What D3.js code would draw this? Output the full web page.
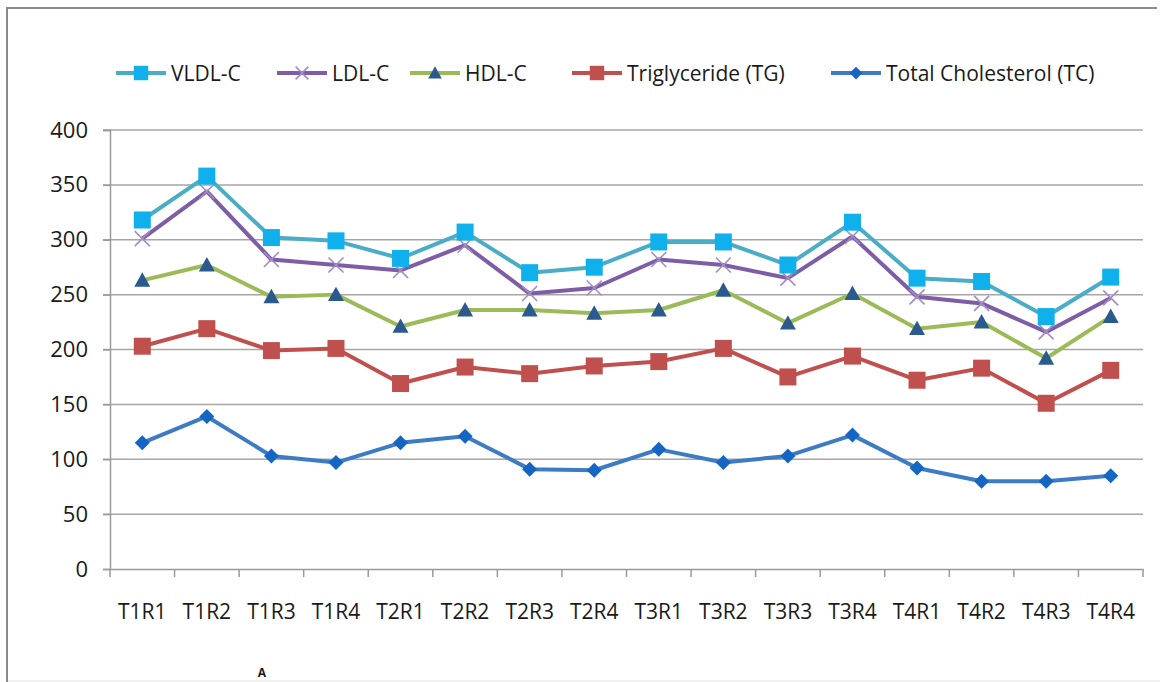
<!DOCTYPE html>
<html>
<head>
<meta charset="utf-8">
<script src="https://cdn.jsdelivr.net/npm/d3@7"></script>
<style>
  html, body { margin: 0; padding: 0; background: #fff; }
  svg { display: block; }
  text { font-family: "Open Sans", "Noto Sans", sans-serif; fill: #1a1a1a; }
</style>
</head>
<body>
<svg id="chart" width="1160" height="682"></svg>
<script>
// Sample labels (treatment / replicate)
const categories = ["T1R1","T1R2","T1R3","T1R4","T2R1","T2R2","T2R3","T2R4",
                    "T3R1","T3R2","T3R3","T3R4","T4R1","T4R2","T4R3","T4R4"];

// Lipid profile values per sample
const vldl = [318, 358, 302, 299, 283, 307, 270, 275, 298, 298, 277, 316, 265, 262, 230, 266];
const ldl  = [301, 344, 282, 277, 272, 295, 251, 256, 282, 277, 265, 303, 248, 242, 216, 247];
const hdl  = [263, 277, 248, 250, 221, 236, 236, 233, 236, 254, 224, 251, 219, 225, 192, 230];
const tg   = [203, 219, 199, 201, 169, 184, 178, 185, 189, 201, 175, 194, 172, 183, 151, 181];
const tc   = [115, 139, 103, 97, 115, 121, 91, 90, 109, 97, 103, 122, 92, 80, 80, 85];

const yTicks = [0, 50, 100, 150, 200, 250, 300, 350, 400];

const seriesNames = ["VLDL-C", "LDL-C", "HDL-C", "Triglyceride (TG)", "Total Cholesterol (TC)"];

const series = [
  { name: seriesNames[0], values: vldl, line: "#4aacc6", fill: "#0fb0ec", shape: "square", size: 17 },
  { name: seriesNames[1], values: ldl,  line: "#7d5ea6", fill: "#a18ec4", shape: "cross",  size: 15 },
  { name: seriesNames[2], values: hdl,  line: "#9bbb59", fill: "#2b5a8e", shape: "triangle", size: 16 },
  { name: seriesNames[3], values: tg,   line: "#c0504d", fill: "#c0504d", shape: "square", size: 17 },
  { name: seriesNames[4], values: tc,   line: "#3d7cc4", fill: "#1466c2", shape: "diamond", size: 15 }
];

const svg = d3.select("#chart");

// Outer frame
svg.append("line").attr("x1", 7).attr("x2", 7).attr("y1", 8).attr("y2", 682)
  .attr("stroke", "#8a8a8a").attr("stroke-width", 2);
svg.append("line").attr("x1", 6).attr("x2", 1157).attr("y1", 8).attr("y2", 8)
  .attr("stroke", "#8a8a8a").attr("stroke-width", 2);
svg.append("line").attr("x1", 8).attr("x2", 1160).attr("y1", 681).attr("y2", 681)
  .attr("stroke", "#e4e4e4").attr("stroke-width", 1);

const plotLeft = 110, plotRight = 1143, plotTop = 130, plotBottom = 569;

const x = d3.scaleBand().domain(categories).range([plotLeft, plotRight]).padding(0);
const cx = c => x(c) + x.bandwidth() / 2;
const y = d3.scaleLinear().domain([0, 400]).range([plotBottom, plotTop]);

// Horizontal gridlines (extend left as tick marks)
svg.append("g").selectAll("line").data(yTicks.filter(t => t > 0)).join("line")
  .attr("x1", plotLeft - 7).attr("x2", plotRight)
  .attr("y1", d => y(d)).attr("y2", d => y(d))
  .attr("stroke", "#a6a6a6").attr("stroke-width", 1.5);

// Y axis
const yAxis = svg.append("g").attr("transform", `translate(${plotLeft},0)`)
  .call(d3.axisLeft(y).tickValues(yTicks).tickSize(7).tickPadding(15));
yAxis.select(".domain").attr("stroke", "#9a9a9a").attr("stroke-width", 1.5);
yAxis.selectAll(".tick line").attr("stroke", "#9a9a9a").attr("stroke-width", 1.5);
yAxis.selectAll(".tick text").attr("font-size", 22).attr("fill", "#1a1a1a")
  .style("font-family", "'Open Sans', sans-serif");

// X axis: labels centred on categories, ticks at category boundaries
const xAxis = svg.append("g").attr("transform", `translate(0,${plotBottom})`)
  .call(d3.axisBottom(x).tickSize(0).tickPadding(35));
xAxis.select(".domain").attr("stroke", "#9a9a9a").attr("stroke-width", 1.5);
xAxis.selectAll(".tick text").attr("font-size", 21).attr("fill", "#1a1a1a")
  .style("font-family", "'Open Sans', sans-serif");
const bounds = categories.map(c => x(c)).concat([x.range()[1]]);
xAxis.append("g").selectAll("line").data(bounds).join("line")
  .attr("x1", d => d).attr("x2", d => d).attr("y1", 0).attr("y2", 8)
  .attr("stroke", "#9a9a9a").attr("stroke-width", 1.5);

// Marker drawing helper
function marker(g, shape, size, fill) {
  const h = size / 2;
  if (shape === "square") {
    g.append("rect").attr("x", -h).attr("y", -h).attr("width", size).attr("height", size)
      .attr("fill", fill);
  } else if (shape === "triangle") {
    g.append("path").attr("d", `M0,${-h}L${h},${h * 0.8}L${-h},${h * 0.8}Z`).attr("fill", fill);
  } else if (shape === "diamond") {
    g.append("path").attr("d", `M0,${-h}L${h},0L0,${h}L${-h},0Z`).attr("fill", fill);
  } else if (shape === "cross") {
    g.append("path").attr("d", `M${-h},${-h}L${h},${h}M${-h},${h}L${h},${-h}`)
      .attr("stroke", fill).attr("stroke-width", 1.6).attr("fill", "none");
  }
}

const line = d3.line().x(d => cx(d.c)).y(d => y(d.v));

// Draw series from bottom to top so VLDL-C sits on top
[...series].reverse().forEach(s => {
  const pts = categories.map((c, i) => ({ c, v: s.values[i] }));
  const g = svg.append("g");
  g.append("path").datum(pts).attr("d", line)
    .attr("fill", "none").attr("stroke", s.line).attr("stroke-width", 4)
    .attr("stroke-linejoin", "round");
  g.selectAll("g.m").data(pts).join("g").attr("class", "m")
    .attr("transform", d => `translate(${cx(d.c)},${y(d.v)})`)
    .each(function () { marker(d3.select(this), s.shape, s.size, s.fill); });
});

// Legend
const legendX = [116, 277, 410, 572, 831];
const legend = svg.append("g");
series.forEach((s, i) => {
  const g = legend.append("g").attr("transform", `translate(${legendX[i]},73)`);
  g.append("line").attr("x1", 0).attr("x2", 50).attr("y1", 0).attr("y2", 0)
    .attr("stroke", s.line).attr("stroke-width", 4);
  const m = g.append("g").attr("transform", "translate(25,0)");
  marker(m, s.shape, s.size * 0.85, s.fill);
  g.append("text").attr("x", 55).attr("y", 0).attr("dy", "0.36em")
    .attr("font-size", 21).text(s.name);
});

// Panel letter at the bottom edge
svg.append("text").attr("x", 262).attr("y", 677).attr("text-anchor", "middle")
  .attr("font-size", 12).attr("font-weight", "bold")
  .attr("font-family", "Liberation Sans, Arial, sans-serif")
  .text("A");
</script>
</body>
</html>
